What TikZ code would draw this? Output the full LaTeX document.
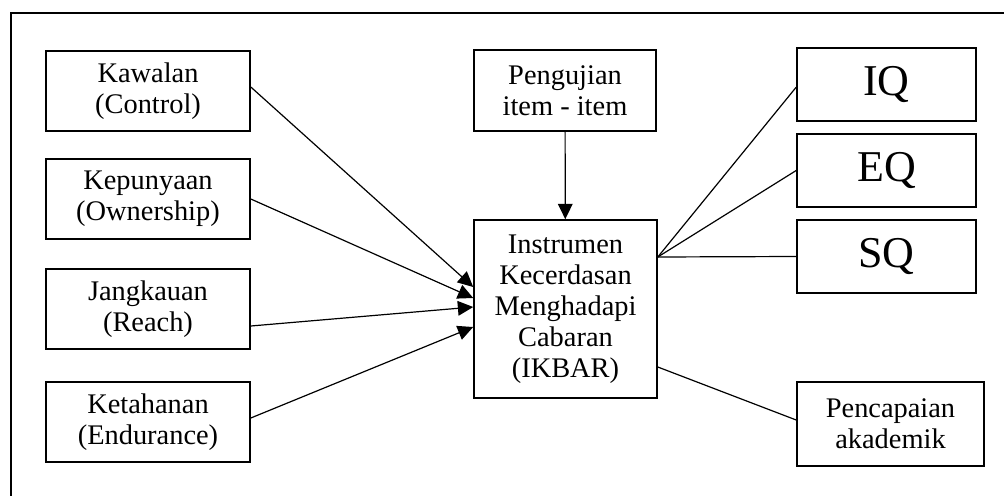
\documentclass[tikz,border=0pt]{standalone}
\usepackage{fontspec}
\setmainfont{Liberation Serif}
\usetikzlibrary{arrows.meta}
\tikzset{
    every node/.style={rectangle, draw, line width=1.2pt, inner sep=0pt,
    	align=center, font=\fontsize{21.3}{23.3}\selectfont}
}
\tikzset{
    every edge/.append style={line width=0.9pt}
}
\tikzset{
	sidebox/.style={minimum width=153pt, minimum height=60pt},
	qbox/.style={minimum width=134.25pt, minimum height=54.75pt,
		font=\fontsize{33}{36}\selectfont},
	tip/.style={-{Triangle[length=11.5pt,width=11pt]}}
}

\begin{document}
\begin{tikzpicture}[x=0.75pt,y=-0.75pt]
	\useasboundingbox (0,0) rectangle (1004,496);
	\draw[line width=1.6pt] (1004,13) -- (11,13) -- (11,496);

	\node (kawalan) [sidebox] at (148,91) {Kawalan\\(Control)};
	\node (kepunyaan) [sidebox] at (148,199) {Kepunyaan\\(Ownership)};
	\node (jangkauan) [sidebox] at (148,309) {Jangkauan\\(Reach)};
	\node (ketahanan) [sidebox] at (148,422) {Ketahanan\\(Endurance)};
	\node (ujian) [minimum width=136.5pt, minimum height=60.75pt] at (565,90.5)
		{Pengujian\\item - item};
	\node (ikbar) [minimum width=137.25pt, minimum height=133.5pt] at (565.5,309)
		{Instrumen\\Kecerdasan\\Menghadapi\\Cabaran\\(IKBAR)};
	\node (iq) [qbox] at (886.5,84.5) {IQ};
	\node (eq) [qbox] at (886.5,170.5) {EQ};
	\node (sq) [qbox] at (886.5,256.5) {SQ};
	\node (capai) [minimum width=140.25pt, minimum height=63pt] at (890.5,424)
		{Pencapaian\\akademik};

	\draw ([yshift=3pt]kawalan.east) edge [tip] ([yshift=16.5pt]ikbar.west);
	\draw (kepunyaan.east) edge [tip] ([yshift=8.25pt]ikbar.west);
	\draw ([yshift=-12.75pt]jangkauan.east) edge [tip] ([yshift=1.5pt]ikbar.west);
	\draw ([yshift=3pt]ketahanan.east) edge [tip] ([yshift=-13.5pt]ikbar.west);
	\draw (ujian) edge [tip] (ikbar);
	\draw ([yshift=39pt]ikbar.east) edge ([yshift=-2pt]iq.west);
	\draw ([yshift=39pt]ikbar.east) edge (eq.west);
	\draw ([yshift=39pt]ikbar.east) edge (sq.west);
	\draw ([yshift=-43.5pt]ikbar.east) edge ([yshift=3pt]capai.west);
\end{tikzpicture}
\end{document}
